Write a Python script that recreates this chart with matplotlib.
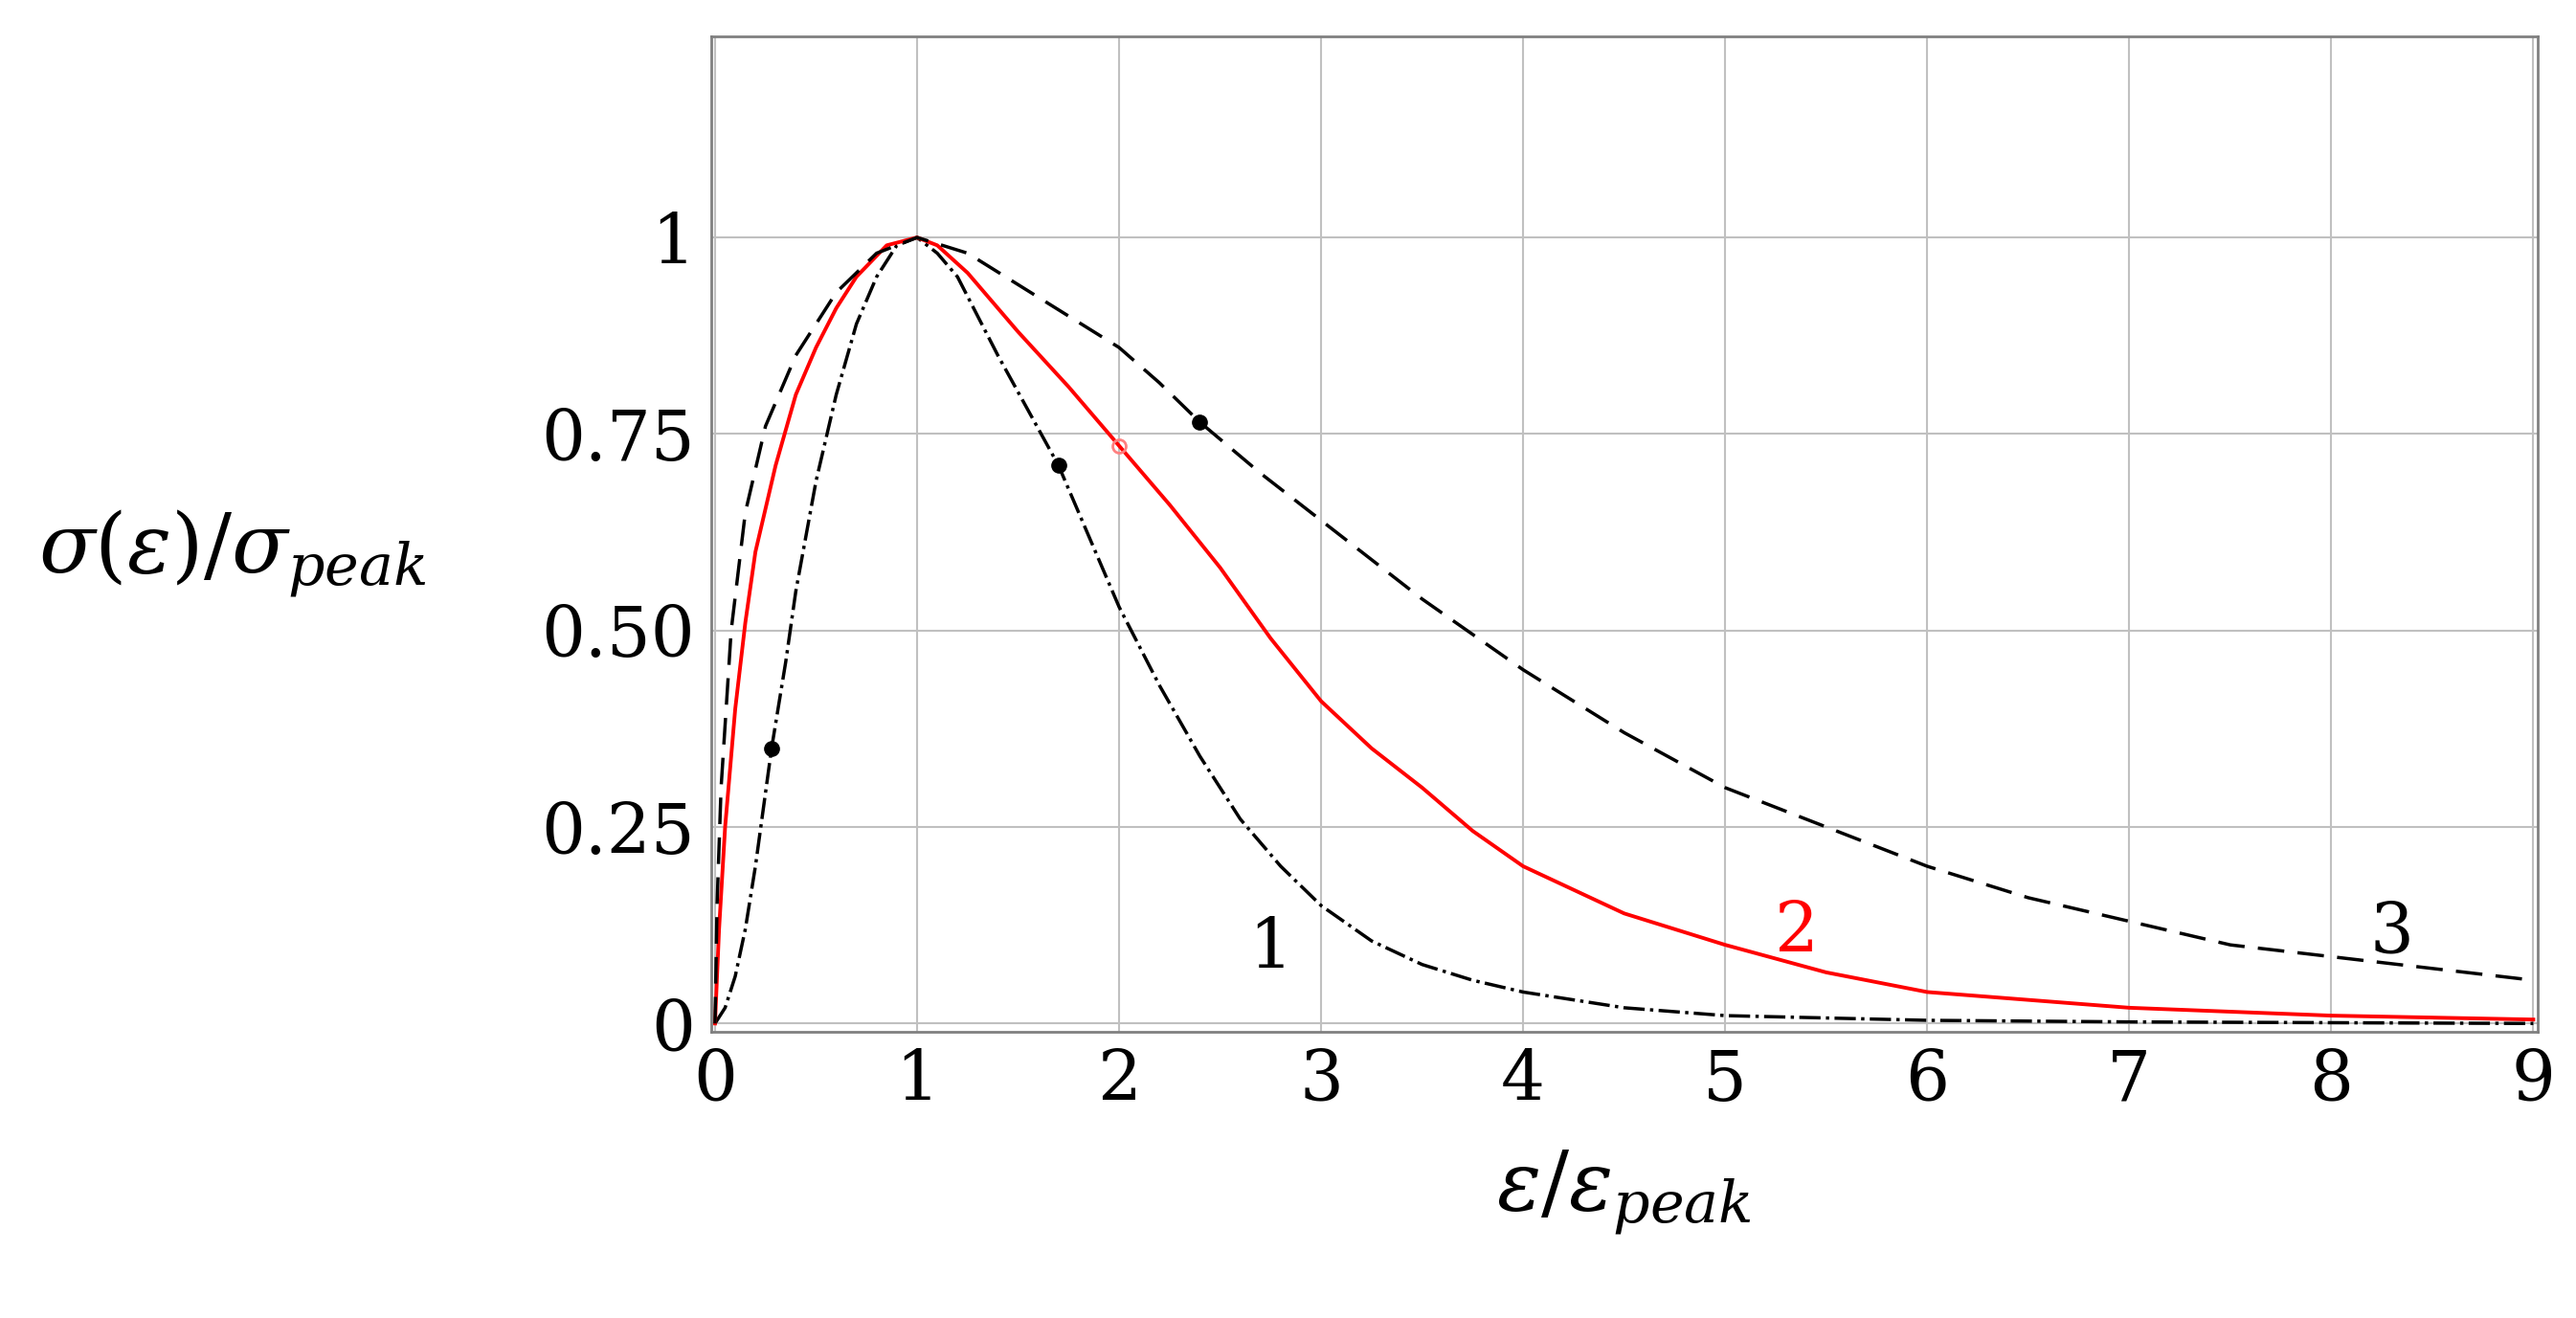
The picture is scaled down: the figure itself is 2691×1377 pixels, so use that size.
import matplotlib
matplotlib.use("Agg")
import matplotlib.pyplot as plt

x1 = [0, 0.05, 0.1, 0.15, 0.2, 0.28, 0.35, 0.4, 0.5, 0.6, 0.7, 0.8, 0.9, 1.0, 1.1, 1.2, 1.3, 1.4, 1.55, 1.7, 1.85, 2.0, 2.2, 2.4, 2.6, 2.8, 3.0, 3.25, 3.5, 3.75, 4.0, 4.5, 5.0, 6.0, 7.0, 9.0]
y1 = [0, 0.02, 0.06, 0.12, 0.2, 0.35, 0.46, 0.55, 0.69, 0.8, 0.89, 0.95, 0.99, 1.0, 0.98, 0.95, 0.9, 0.85, 0.78, 0.71, 0.62, 0.53, 0.43, 0.34, 0.26, 0.2, 0.15, 0.105, 0.075, 0.055, 0.04, 0.02, 0.01, 0.004, 0.002, 0.0]
x2 = [0, 0.02, 0.05, 0.1, 0.15, 0.2, 0.3, 0.4, 0.5, 0.6, 0.7, 0.85, 1.0, 1.1, 1.25, 1.5, 1.75, 2.0, 2.25, 2.5, 2.75, 3.0, 3.25, 3.5, 3.75, 4.0, 4.5, 5.0, 5.5, 6.0, 6.5, 7.0, 8.0, 9.0]
y2 = [0, 0.12, 0.25, 0.4, 0.51, 0.6, 0.71, 0.8, 0.86, 0.91, 0.95, 0.99, 1.0, 0.99, 0.955, 0.88, 0.81, 0.735, 0.66, 0.58, 0.49, 0.41, 0.35, 0.3, 0.245, 0.2, 0.14, 0.1, 0.065, 0.04, 0.03, 0.02, 0.01, 0.005]
x3 = [0, 0.01, 0.03, 0.08, 0.15, 0.25, 0.4, 0.6, 0.8, 1.0, 1.25, 1.5, 1.75, 2.0, 2.2, 2.4, 2.7, 3.0, 3.5, 4.0, 4.5, 5.0, 5.5, 6.0, 6.5, 7.0, 7.5, 8.0, 8.5, 9.0]
y3 = [0, 0.15, 0.3, 0.5, 0.65, 0.76, 0.85, 0.93, 0.98, 1.0, 0.98, 0.94, 0.9, 0.86, 0.815, 0.765, 0.7, 0.64, 0.54, 0.45, 0.37, 0.30, 0.25, 0.2, 0.16, 0.13, 0.1, 0.085, 0.07, 0.055]
dots_x = [0.28, 1.7, 2.4]
dots_y = [0.35, 0.71, 0.765]
red_pt = (2.0, 0.735)
xticks = list(range(10))
yticks = [0, 0.25, 0.5, 0.75, 1]
yticklabels = ["0", "0.25", "0.50", "0.75", "1"]

plt.rcParams['font.family'] = ['DejaVu Serif']
plt.rcParams['mathtext.fontset'] = 'dejavuserif'
fig = plt.figure(figsize=(26.91, 13.77), dpi=100)
ax = fig.add_axes([0.276, 0.2175, 0.709, 0.755])
ax.plot(x1, y1, color='black', ls='-.', lw=2.5)
ax.plot(x2, y2, color='red', ls='-', lw=2.8)
ax.plot(x3, y3, color='black', ls=(0, (8, 4)), lw=2.5)
ax.plot(dots_x, dots_y, 'o', color='black', ms=11)
ax.plot([red_pt[0]], [red_pt[1]], 'o', mfc='none', mec='#ff8080', ms=10, mew=2)
ax.text(2.75, 0.07, "1", fontsize=52, color='black', ha='center')
ax.text(5.35, 0.09, "2", fontsize=52, color='red', ha='center')
ax.text(8.3, 0.09, "3", fontsize=52, color='black', ha='center')
ax.set_xlim(-0.02, 9.02)
ax.set_ylim(-0.01, 1.256)
ax.set_xticks(xticks)
ax.set_yticks(yticks)
ax.set_yticklabels(yticklabels)
ax.tick_params(labelsize=52, length=0, pad=12)
ax.grid(True, color='#c0c0c0', lw=1.5)
for s in ax.spines.values():
    s.set_color('#808080'); s.set_linewidth(2)
ax.set_xlabel(r'$\varepsilon/\varepsilon_{peak}$', fontsize=62, labelpad=25)
fig.text(0.09, 0.58, r'$\sigma(\varepsilon)/\sigma_{peak}$', fontsize=62, ha='center', va='center')
fig.savefig("out.png", dpi=100)
